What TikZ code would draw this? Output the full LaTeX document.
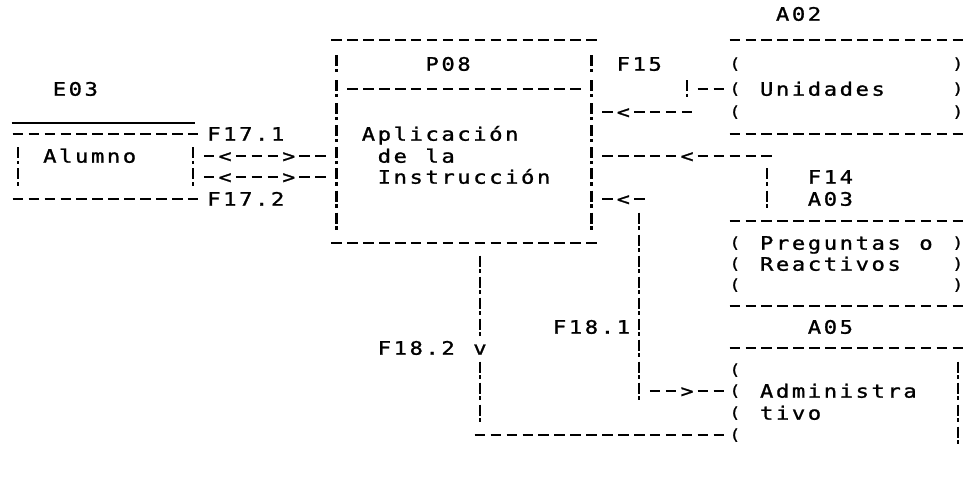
\documentclass[tikz,border=0pt]{standalone}
\usepackage{fontspec}
\newfontfamily\dotfont[FakeStretch=1.2,FakeBold=1.2]{DejaVu Sans Mono}
\newlength\cellw
\setlength\cellw{15.93pt}
\makeatletter
\def\gt@end{\gt@end}
\newcommand\gridtext[1]{\gt@loop#1\gt@end}
\def\gt@loop#1{\ifx#1\gt@end\else\hbox to\cellw{\hss#1\hss}\expandafter\gt@loop\fi}
\makeatother
% row centres (pixels from the top)
\newcommand\ry[1]{\ifcase#1 14\or40\or64\or89\or112\or134\or156\or177\or199\or221\or243\or264\or285\or306\or327\or348\or370\or391\or413\or435\fi}
\tikzset{
  txt/.style={anchor=base west, inner sep=0pt, outer sep=0pt, font=\dotfont\fontsize{18.5pt}{18.5pt}\selectfont},
  brk/.style={anchor=base, inner sep=0pt, outer sep=0pt, font=\dotfont\fontsize{15pt}{15pt}\selectfont},
  chev/.style={anchor=base, inner sep=0pt, outer sep=0pt, font=\dotfont\fontsize{18pt}{18pt}\selectfont},
  hd/.style={line width=2.2pt, dash pattern=on 10.5pt off 5.43pt},
  barst/.style={line width=2.4pt},
}
% name, column, row, text
\newcommand\gtxt[4]{\node[txt] (#1) at ({#2-0.5},{\ry{#3}+6.7}) {\gridtext{#4}};}
% name, first column, last column, row
\newcommand\hdash[4]{\coordinate (#1-a) at ({#2-0.33},{\ry{#4}});\coordinate (#1-b) at ({#3+0.33},{\ry{#4}});\draw[hd] (#1-a) -- (#1-b);}
% column, row : one "!" character
\newcommand\bang[2]{\draw[barst] (#1,{\ry{#2}-8.5}) -- (#1,{\ry{#2}+2.5});\draw[barst] (#1,{\ry{#2}+5}) -- (#1,{\ry{#2}+8.5});}
% name, column, row, char
\newcommand\pchar[4]{\node[brk] (#1) at (#2,{\ry{#3}+4.8}) {#4};}
\newcommand\chev[4]{\node[chev] (#1) at (#2,{\ry{#3}+6.4}) {#4};}

\begin{document}
\begin{tikzpicture}[x=15.93pt,y=-1pt,shift={(18pt,0pt)}]
\path[use as bounding box] (-18pt,0pt) rectangle ++(968pt,-489pt);
\fill[white] (-18pt,0pt) rectangle ++(968pt,-489pt);
\clip (-18pt,0pt) rectangle ++(968pt,-489pt);

% ---------- E03 Alumno
\gtxt{e03}{2.6}{3}{E03}
\coordinate (us-a) at (-0.4,123);
\coordinate (us-b) at (11.1,123);
\draw[line width=2.2pt] (us-a) -- (us-b);
\hdash{altop}{0}{11}{5}
\hdash{albot}{0}{11}{8}
\bang{0}{6}\bang{0}{7}\bang{11}{6}\bang{11}{7}
\gtxt{alumno}{2}{6}{Alumno}

% ---------- F17.1 / F17.2
\gtxt{f171}{12.3}{5}{F17.1}
\gtxt{f172}{12.3}{8}{F17.2}
\hdash{fa1}{12}{12}{6}\chev{fa-l}{13}{6}{<}\hdash{fa2}{14}{16}{6}\chev{fa-r}{17}{6}{>}\hdash{fa3}{18}{19}{6}
\hdash{fb1}{12}{12}{7}\chev{fb-l}{13}{7}{<}\hdash{fb2}{14}{16}{7}\chev{fb-r}{17}{7}{>}\hdash{fb3}{18}{19}{7}

% ---------- P08
\hdash{ptop}{20}{36}{1}
\hdash{psep}{21}{35}{3}
\hdash{pbot}{20}{36}{10}
\foreach \r in {2,...,9}{\bang{20}{\r}\bang{36}{\r}}
\gtxt{p08}{26}{2}{P08}
\gtxt{apl}{22}{5}{Aplicación}
\gtxt{dela}{23}{6}{de~la}
\gtxt{instr}{23}{7}{Instrucción}

% ---------- A02 Unidades
\gtxt{a02}{48}{0}{A02}
\hdash{a2top}{45}{60}{1}
\hdash{a2bot}{45}{60}{5}
\foreach \r in {2,3,4}{\pchar{a2l\r}{45}{\r}{(}\pchar{a2r\r}{59}{\r}{)}}
\gtxt{unid}{47}{3}{Unidades}

% ---------- F15
\gtxt{f15}{38}{2}{F15}
\hdash{f15a}{43}{44}{3}
\bang{42}{3}
\hdash{f15b}{39}{42}{4}
\chev{f15l}{38}{4}{<}
\hdash{f15c}{37}{37}{4}

% ---------- F14
\hdash{f14a}{37}{41}{6}
\chev{f14l}{42}{6}{<}
\hdash{f14b}{43}{47}{6}
\bang{47}{7}\bang{47}{8}
\gtxt{f14}{50}{7}{F14}

% ---------- A03 Preguntas
\gtxt{a03}{50}{8}{A03}
\hdash{a3top}{45}{60}{9}
\hdash{a3bot}{45}{60}{13}
\foreach \r in {10,11,12}{\pchar{a3l\r}{45}{\r}{(}\pchar{a3r\r}{59}{\r}{)}}
\gtxt{preg}{47}{10}{Preguntas~o}
\gtxt{reac}{47}{11}{Reactivos}

% ---------- F18.1
\hdash{f181a}{37}{37}{8}
\chev{f181l}{38}{8}{<}
\hdash{f181b}{39}{39}{8}
\foreach \r in {9,...,17}{\bang{39}{\r}}
\gtxt{f181}{34}{14}{F18.1}
\hdash{f181c}{40}{41}{17}
\chev{f181r}{42}{17}{>}
\hdash{f181d}{43}{44}{17}

% ---------- F18.2
\foreach \r in {11,12,13,14,16,17,18}{\bang{29}{\r}}
\gtxt{f182}{23}{15}{F18.2~v}
\hdash{f182b}{29}{44}{19}

% ---------- A05 Administrativo
\gtxt{a05}{50}{14}{A05}
\hdash{a5top}{45}{60}{15}
\foreach \r in {16,...,19}{\pchar{a5l\r}{45}{\r}{(}\bang{59}{\r}}
\gtxt{adm}{47}{17}{Administra}
\gtxt{tivo}{47}{18}{tivo}
\end{tikzpicture}
\end{document}
